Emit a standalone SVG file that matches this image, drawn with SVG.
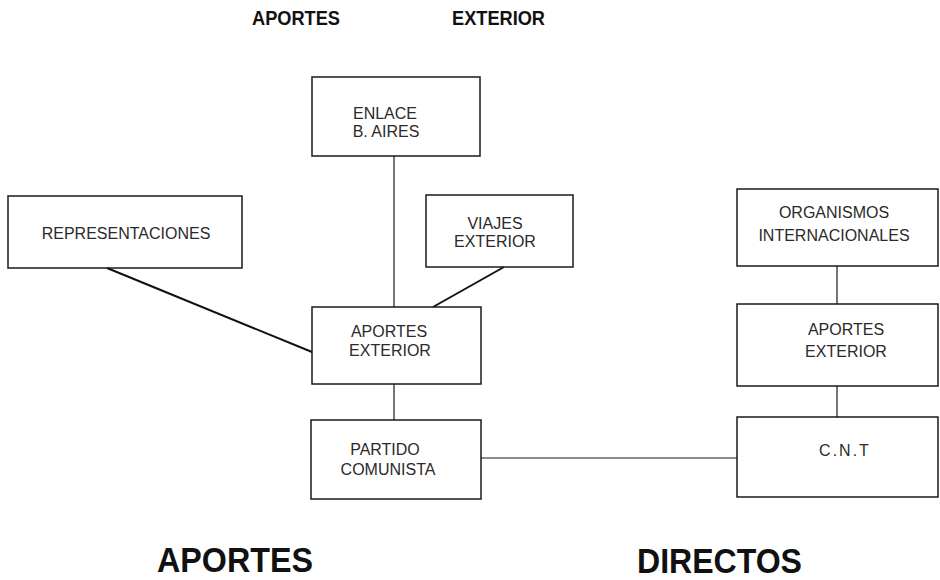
<svg xmlns="http://www.w3.org/2000/svg" width="940" height="580" viewBox="0 0 940 580">
<style>
.box{fill:none;stroke:#1a1a1a;stroke-width:1.5}
.lbl{font-family:"Liberation Sans",Arial,sans-serif;font-size:16px;fill:#2a2a2a;text-anchor:middle}
.ttl{font-family:"Liberation Sans",Arial,sans-serif;font-weight:bold;fill:#111}
.thin{stroke:#1a1a1a;stroke-width:1.2;fill:none}
.thick{stroke:#111;stroke-width:2;fill:none}
</style>
<rect width="940" height="580" fill="#fff"/>
<text class="ttl" x="252" y="25" font-size="21" textLength="88" lengthAdjust="spacingAndGlyphs">APORTES</text>
<text class="ttl" x="452" y="25" font-size="21" textLength="93" lengthAdjust="spacingAndGlyphs">EXTERIOR</text>
<g id="connectors">
<line class="thin" x1="394" y1="156" x2="394" y2="307"/>
<line class="thick" x1="504" y1="267" x2="433" y2="307"/>
<line class="thick" x1="107" y1="268" x2="312" y2="352"/>
<line class="thin" x1="394" y1="384" x2="394" y2="420"/>
<line class="thin" x1="481" y1="458" x2="737" y2="458"/>
<line class="thin" x1="837" y1="266" x2="837" y2="304"/>
<line class="thin" x1="837" y1="386" x2="837" y2="417"/>
</g>
<g id="enlace">
<rect class="box" x="312" y="77" width="168" height="79"/>
<text class="lbl" x="385" y="119">ENLACE</text>
<text class="lbl" x="386" y="137">B. AIRES</text>
</g>
<g id="representaciones">
<rect class="box" x="8" y="196" width="234" height="72"/>
<text class="lbl" x="126" y="239">REPRESENTACIONES</text>
</g>
<g id="viajes">
<rect class="box" x="426" y="195" width="147" height="72"/>
<text class="lbl" x="495" y="229">VIAJES</text>
<text class="lbl" x="495" y="247">EXTERIOR</text>
</g>
<g id="aportes-exterior-1">
<rect class="box" x="312" y="307" width="169" height="77"/>
<text class="lbl" x="389" y="337">APORTES</text>
<text class="lbl" x="390" y="356">EXTERIOR</text>
</g>
<g id="partido">
<rect class="box" x="311" y="420" width="170" height="79"/>
<text class="lbl" x="385" y="455">PARTIDO</text>
<text class="lbl" x="388" y="475">COMUNISTA</text>
</g>
<g id="organismos">
<rect class="box" x="737" y="189" width="201" height="77"/>
<text class="lbl" x="834" y="218">ORGANISMOS</text>
<text class="lbl" x="834" y="241">INTERNACIONALES</text>
</g>
<g id="aportes-exterior-2">
<rect class="box" x="737" y="304" width="201" height="82"/>
<text class="lbl" x="846" y="335">APORTES</text>
<text class="lbl" x="846" y="357">EXTERIOR</text>
</g>
<g id="cnt">
<rect class="box" x="737" y="417" width="201" height="80"/>
<text class="lbl" x="845" y="456" letter-spacing="2">C.N.T</text>
</g>
<text class="ttl" x="157" y="572" font-size="35" textLength="156" lengthAdjust="spacingAndGlyphs">APORTES</text>
<text class="ttl" x="637" y="573" font-size="35" textLength="165" lengthAdjust="spacingAndGlyphs">DIRECTOS</text>
</svg>
